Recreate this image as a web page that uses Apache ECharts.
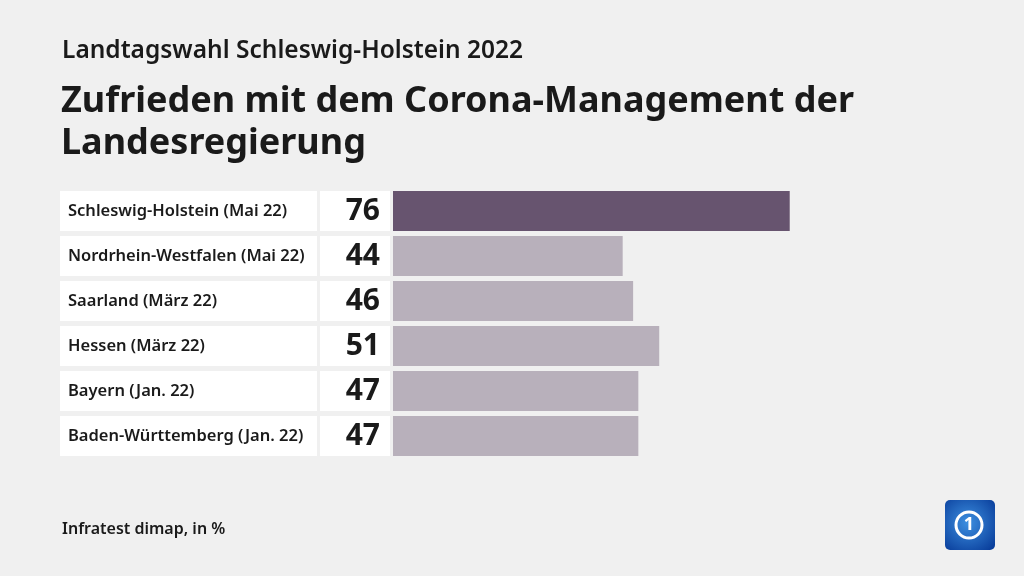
<!DOCTYPE html>
<html><head><meta charset="utf-8">
<script src="https://cdn.jsdelivr.net/npm/echarts@6/dist/echarts.min.js"></script>
<style>html,body{margin:0;padding:0;background:#f0f0f0;}#c{width:1024px;height:576px;}</style>
</head><body><div id="c"></div>
<script>
const categories = ['Schleswig-Holstein (Mai 22)','Nordrhein-Westfalen (Mai 22)','Saarland (März 22)','Hessen (März 22)','Bayern (Jan. 22)','Baden-Württemberg (Jan. 22)'];
const values = [76, 44, 46, 51, 47, 47];
const highlightIndex = 0;
const colors = {dark:'#67546f', light:'#b8b0bb'};

const FONT = '"Noto Sans", "Open Sans", sans-serif';
const chart = echarts.init(document.getElementById('c'));
chart.setOption({
  backgroundColor:'#f0f0f0',
  animation:false,
  textStyle:{fontFamily:FONT},
  title:[
    {text:'Landtagswahl Schleswig-Holstein 2022', left:57, top:34, textStyle:{fontFamily:FONT, fontSize:24.5, fontWeight:600, color:'#1a1a1a'}},
    {text:'Zufrieden mit dem Corona-Management der\nLandesregierung', left:56, top:76, textStyle:{fontFamily:FONT, fontSize:36, fontWeight:700, color:'#1a1a1a', lineHeight:42}},
    {text:'Infratest dimap, in %', left:57, top:516, textStyle:{fontFamily:FONT, fontSize:16, fontWeight:600, color:'#1a1a1a'}}
  ],
  grid:{left:393, top:188.5, width:522, height:270, containLabel:false},
  xAxis:{type:'value', min:0, max:100, show:false},
  yAxis:{type:'category', inverse:true, data:categories,
    axisLine:{show:false}, axisTick:{show:false},
    axisLabel:{margin:3, align:'right',
      formatter:function(v, i){ return '{a|'+v+'}{g|}{b|'+values[i]+'}'; },
      rich:{
        a:{width:249, height:40, lineHeight:40, padding:[0,0,0,8], backgroundColor:'#ffffff', align:'left', fontSize:16.5, fontWeight:600, color:'#1a1a1a', fontFamily:FONT},
        g:{width:3, height:40},
        b:{width:60, height:40, lineHeight:40, padding:[0,10,0,0], backgroundColor:'#ffffff', align:'right', fontSize:30, fontWeight:700, color:'#1a1a1a', fontFamily:FONT}
      }
    }
  },
  series:[{type:'bar', barWidth:40, silent:true,
    data: values.map((v,i)=>({value:v, itemStyle:{color: i===highlightIndex?colors.dark:colors.light}}))
  }],
  graphic:[
    {type:'group', left:945, top:500, children:[
      {type:'rect', shape:{x:0,y:0,width:50,height:50,r:5}, style:{fill:new echarts.graphic.RadialGradient(0.45,0.45,0.7,[{offset:0,color:'#3d8fe0'},{offset:1,color:'#0a3f9c'}])}},
      {type:'circle', shape:{cx:24, cy:25, r:13}, style:{fill:'none', stroke:'#ffffff', lineWidth:3}},
      {type:'text', style:{x:24, y:25, text:'1', fill:'#ffffff', font:'bold 18px '+FONT, align:'center', verticalAlign:'middle'}}
    ]}
  ]
});
</script></body></html>
